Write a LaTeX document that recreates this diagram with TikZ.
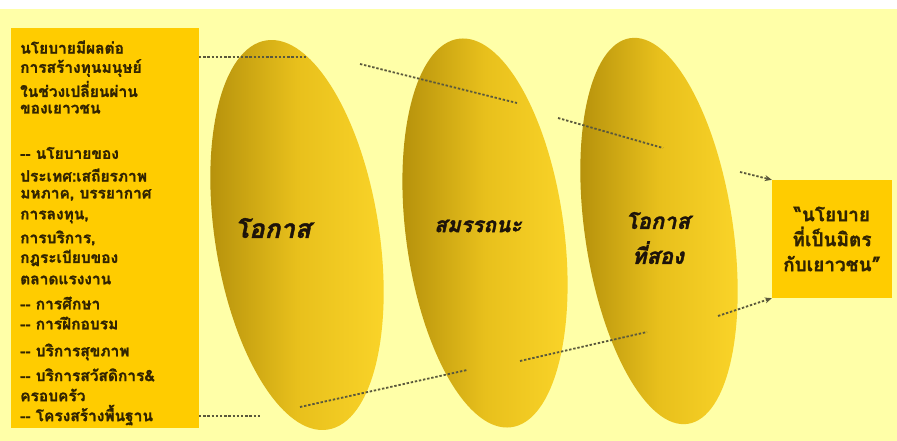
\documentclass[tikz,border=0pt]{standalone}
\usepackage{fontspec}
\usetikzlibrary{arrows.meta}
\newfontfamily\thaifont[Script=Thai]{Loma}
\newfontfamily\thaibold[Script=Thai,FakeBold=1.2]{Loma Bold}
\newfontfamily\thaiboldit[Script=Thai,FakeBold=1.6,FakeSlant=0.22]{Loma Bold}
\definecolor{bgyellow}{RGB}{255,255,168}
\definecolor{boxgold}{RGB}{255,204,0}
\definecolor{txtdark}{RGB}{50,36,0}
\definecolor{dashgray}{RGB}{90,88,60}
\definecolor{elldark}{RGB}{176,140,10}
\definecolor{ellmid}{RGB}{232,192,28}
\definecolor{elllight}{RGB}{252,214,42}
\tikzset{
  goldbox/.style={fill=boxgold, draw=none},
  lefttxt/.style={anchor=west, inner sep=0pt, text=txtdark, font=\thaibold\fontsize{15.5}{18}\selectfont},
  elltxt/.style={inner sep=0pt, text=black!85!brown, align=center},
  goaltxt/.style={inner sep=0pt, text=txtdark, align=center, font=\thaibold\fontsize{19}{25}\selectfont},
  dotline/.style={draw=dashgray, line width=1.8pt, dash pattern=on 2.4pt off 1.8pt},
  dotarrow/.style={dotline, -{Stealth[length=7pt,width=6pt]}, shorten >=0pt},
  ellshade/.style={left color=elldark, right color=elllight, middle color=ellmid}
}
\begin{document}
\begin{tikzpicture}[x=1pt,y=-1pt]
\useasboundingbox (0,0) rectangle (897,441);
\fill[white] (0,0) rectangle (897,441);
\fill[bgyellow] (0,9) rectangle (897,441);
% left box
\fill[goldbox] (11,28) rectangle (199,428);
\node[lefttxt] (l1) at (20,47) {นโยบายมีผลต่อ};
\node[lefttxt] (l2) at (20,68) {การสร้างทุนมนุษย์};
\node[lefttxt] (l3) at (20,89) {ในช่วงเปลี่ยนผ่าน};
\node[lefttxt] (l4) at (20,109) {ของเยาวชน};
\node[lefttxt] (l5) at (20,153) {-{}- นโยบายของ};
\node[lefttxt] (l6) at (20,175) {ประเทศ:เสถียรภาพ};
\node[lefttxt] (l7) at (20,195) {มหภาค, บรรยากาศ};
\node[lefttxt] (l8) at (20,217) {การลงทุน,};
\node[lefttxt] (l9) at (20,238) {การบริการ,};
\node[lefttxt] (l10) at (20,258) {กฎระเบียบของ};
\node[lefttxt] (l11) at (20,280) {ตลาดแรงงาน};
\node[lefttxt] (l12) at (20,303) {-{}- การศึกษา};
\node[lefttxt] (l13) at (20,323) {-{}- การฝึกอบรม};
\node[lefttxt] (l14) at (20,352) {-{}- บริการสุขภาพ};
\node[lefttxt] (l15) at (20,375) {-{}- บริการสวัสดิการ\&};
\node[lefttxt] (l16) at (20,395) {ครอบครัว};
\node[lefttxt] (l17) at (20,415) {-{}- โครงสร้างพื้นฐาน};
% ellipses
\shade[ellshade, rotate around={9:(297,235)}] (297,235) ellipse [x radius=82, y radius=197];
\shade[ellshade, rotate around={7.7:(485,233)}] (485,233) ellipse [x radius=79, y radius=196];
\shade[ellshade, rotate around={8.5:(659,231)}] (659,231) ellipse [x radius=74, y radius=195];
\node[elltxt, font=\thaiboldit\fontsize{26}{30}\selectfont] (e1) at (273,228) {โอกาส};
\node[elltxt, font=\thaiboldit\fontsize{21}{30}\selectfont] (e2) at (478,226) {สมรรถนะ};
\node[elltxt, font=\thaiboldit\fontsize{22}{35}\selectfont] (e3) at (658,238) {โอกาส\\ที่สอง};
% goal box
\node[goldbox, minimum width=120pt, minimum height=118pt, inner sep=0pt] (goal) at (832,239) {};
\node[goaltxt] (gt) at (goal.center) {“นโยบาย\\ที่เป็นมิตร\\กับเยาวชน”};
% dashed connectors (segments)
\coordinate (a1) at (199,57); \coordinate (a2) at (307,57);
\coordinate (b1) at (360,64); \coordinate (b2) at (517,103);
\coordinate (c1) at (558,118); \coordinate (c2) at (663,148);
\coordinate (d1) at (740,172);
\coordinate (e1s) at (199,416); \coordinate (e2s) at (260,416);
\coordinate (f1) at (300,407); \coordinate (f2) at (467,370);
\coordinate (g1) at (520,361); \coordinate (g2) at (647,332);
\coordinate (h1) at (718,316);
\draw[dotline] (a1) -- (a2);
\draw[dotline] (b1) -- (b2);
\draw[dotline] (c1) -- (c2);
\draw[dotarrow] (d1) -- (goal.north west);
\draw[dotline] (e1s) -- (e2s);
\draw[dotline] (f1) -- (f2);
\draw[dotline] (g1) -- (g2);
\draw[dotarrow] (h1) -- (goal.south west);
\end{tikzpicture}
\end{document}
